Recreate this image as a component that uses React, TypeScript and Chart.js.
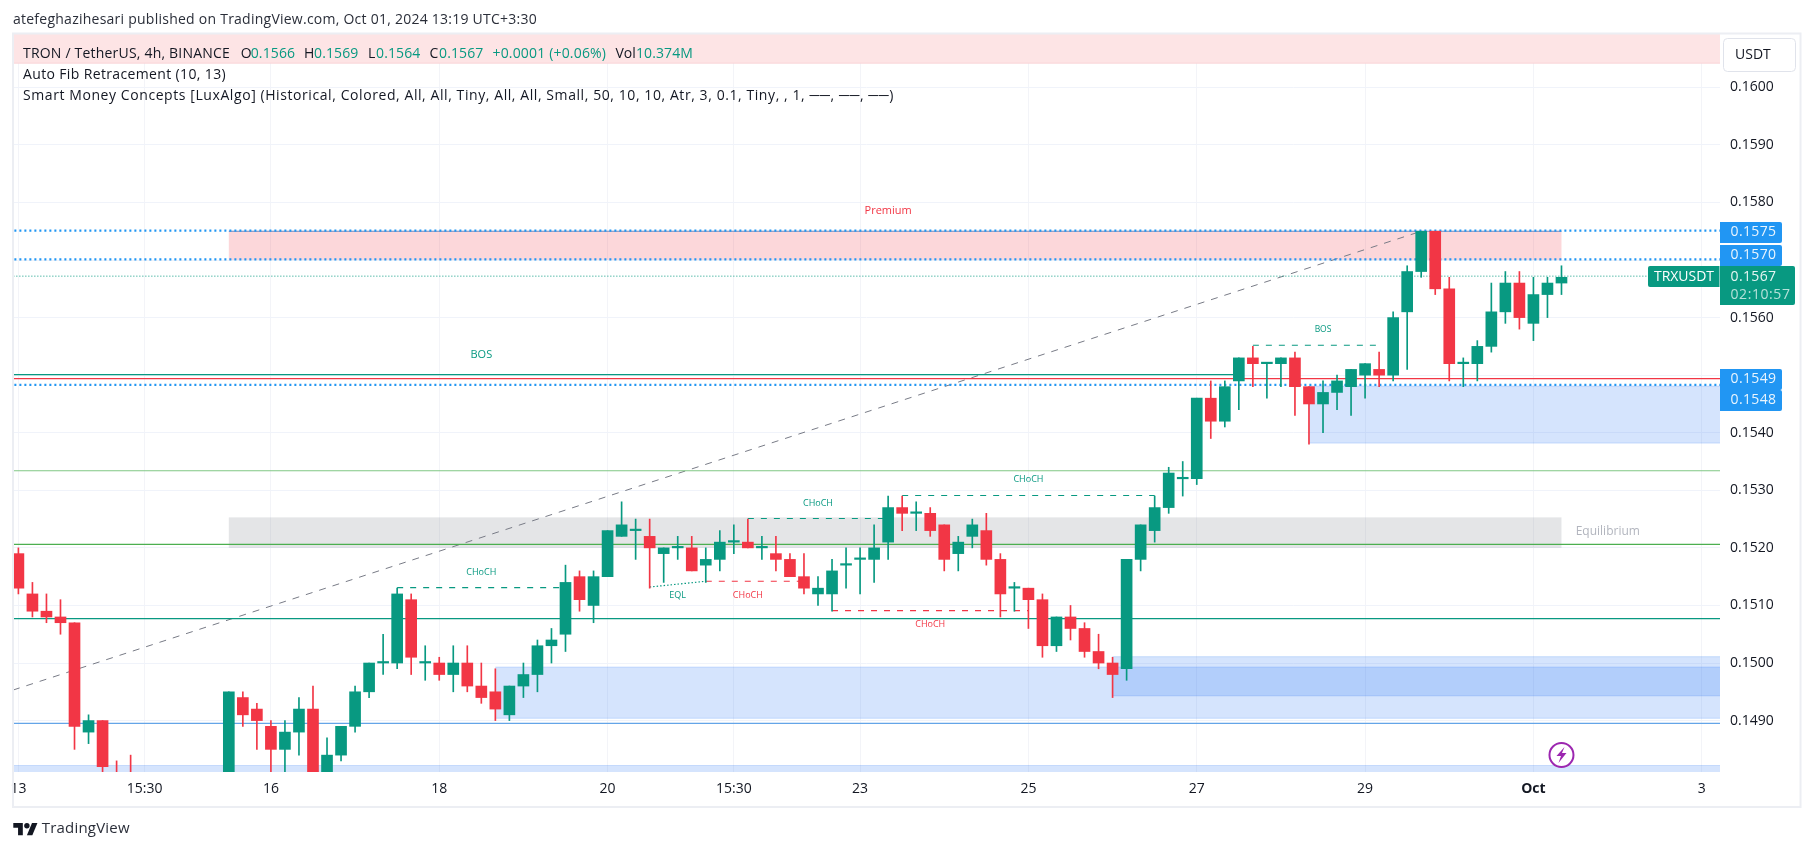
import React, { useEffect, useRef } from "react";
import { Chart, registerables } from "chart.js";

Chart.register(...registerables);

const candleIndex = Array.from({ length: 111 }, (_, i) => i);
// prices in units of 0.0001, null where the candle is entirely below the visible range
const opens: (number | null)[] = [
  1519, 1512, 1509, 1508, 1507, 1488, 1490, 1481, 1480, null, null, null, null, null, null, 1478, 1494, 1492, 1489,
  1485, 1488, 1492, 1479, 1484, 1489, 1495, 1500, 1500, 1511, 1500, 1500, 1498, 1500, 1496, 1495, 1491, 1496, 1498,
  1503, 1505, 1515, 1510, 1515, 1522, 1523, 1522, 1519, 1520, 1520, 1517, 1518, 1521, 1521, 1520, 1519, 1518, 1515,
  1512, 1512, 1517, 1518, 1518, 1521, 1527, 1526, 1526, 1524, 1519, 1522, 1523, 1518, 1513, 1513, 1511, 1503, 1508,
  1506, 1502, 1500, 1499, 1518, 1523, 1527, 1532, 1532, 1546, 1542, 1549, 1553, 1552, 1552, 1553, 1548, 1545, 1547,
  1548, 1550, 1551, 1550, 1561, 1568, 1575, 1565, 1552, 1552, 1555, 1561, 1566, 1559, 1564, 1566,
];
const highs: (number | null)[] = [
  1520, 1514, 1512, 1511, 1507, 1491, 1490, 1483, 1484, null, null, null, null, null, null, 1495, 1495, 1493, 1490,
  1490, 1494, 1496, 1487, 1489, 1496, 1500, 1505, 1513, 1512, 1503, 1501, 1503, 1503, 1500, 1499, 1496, 1500, 1504,
  1506, 1517, 1516, 1516, 1523, 1528, 1525, 1525, 1520, 1522, 1522, 1520, 1523, 1524, 1525, 1522, 1522, 1519, 1519,
  1515, 1518, 1520, 1520, 1524, 1529, 1529, 1528, 1527, 1524, 1522, 1525, 1526, 1519, 1514, 1513, 1512, 1508, 1510,
  1507, 1505, 1501, 1518, 1524, 1529, 1534, 1535, 1546, 1549, 1549, 1553, 1555, 1552, 1553, 1554, 1548, 1549, 1550,
  1551, 1552, 1554, 1561, 1569, 1575, 1575, 1567, 1553, 1556, 1566, 1568, 1568, 1567, 1567, 1569,
];
const lows: (number | null)[] = [
  1512, 1508, 1507, 1505, 1485, 1486, 1480, 1478, 1474, null, null, null, null, null, null, 1476, 1489, 1485, 1480,
  1480, 1484, 1478, 1477, 1483, 1488, 1494, 1498, 1499, 1498, 1497, 1497, 1495, 1495, 1493, 1490, 1490, 1494, 1495,
  1500, 1502, 1509, 1507, 1515, 1522, 1518, 1513, 1514, 1518, 1516, 1514, 1516, 1519, 1520, 1518, 1516, 1515, 1512,
  1510, 1509, 1513, 1512, 1514, 1518, 1523, 1523, 1522, 1516, 1516, 1520, 1517, 1508, 1509, 1506, 1501, 1502, 1504,
  1501, 1499, 1494, 1497, 1516, 1521, 1526, 1529, 1531, 1539, 1541, 1544, 1548, 1546, 1548, 1543, 1538, 1540, 1544,
  1543, 1546, 1548, 1549, 1551, 1567, 1564, 1549, 1548, 1549, 1554, 1559, 1558, 1556, 1560, 1564,
];
const closes: (number | null)[] = [
  1513, 1509, 1508, 1507, 1489, 1490, 1482, 1480, 1476, null, null, null, null, null, null, 1495, 1491, 1490, 1485,
  1488, 1492, 1480, 1484, 1489, 1495, 1500, 1500, 1512, 1501, 1500, 1498, 1500, 1496, 1494, 1492, 1496, 1498, 1503,
  1504, 1514, 1511, 1515, 1523, 1524, 1523, 1520, 1520, 1520, 1516, 1518, 1521, 1521, 1520, 1520, 1518, 1515, 1513,
  1513, 1516, 1517, 1518, 1520, 1527, 1526, 1526, 1523, 1518, 1521, 1524, 1518, 1512, 1513, 1511, 1503, 1508, 1506,
  1502, 1500, 1498, 1518, 1524, 1527, 1533, 1532, 1546, 1542, 1548, 1553, 1552, 1552, 1553, 1548, 1545, 1547, 1549,
  1551, 1552, 1550, 1560, 1568, 1575, 1565, 1552, 1552, 1555, 1561, 1566, 1560, 1564, 1566, 1567,
];

const xTickIndex = [0, 9, 18, 30, 42, 51, 60, 72, 84, 96, 108, 120];
const xTickLabels = ["13", "15:30", "16", "18", "20", "15:30", "23", "25", "27", "29", "Oct", "3"];
const yTickValues = [0.149, 0.15, 0.151, 0.152, 0.153, 0.154, 0.155, 0.156, 0.157, 0.158, 0.159, 0.16];

const fibDottedLevels = [0.15751, 0.15701, 0.15483];
const lastPriceLevel = 0.15672;
const bosLevel = [0.15501];
const redFullLevel = [0.15494];
const lightGreenLevel = [0.15334];
const greenLevel = [0.15206];
const tealLevel = [0.15077];
const blueLevel = [0.14895];

const trendFrom = [-0.385, 0.14953];
const trendTo = [100, 0.1575];

const greenDashFrom = [27, 52, 63, 88];
const greenDashTo = [39, 62, 81, 97];
const greenDashPrice = [0.15131, 0.15251, 0.15291, 0.15552];
const redDashFrom = [49, 58];
const redDashTo = [55.7, 72];
const redDashPrice = [0.15142, 0.15091];
const eqlFrom = [45, 0.15132];
const eqlTo = [49, 0.15142];

const zoneFrom = [34, 78, 92, -1];
const zoneTop = [0.14993, 0.15011, 0.15481, 0.14822];
const zoneBottom = [0.14904, 0.14943, 0.15382, 0.148];
const premiumZone = [15, 110, 0.1575, 0.157];
const equilibriumZone = [15, 110, 0.15253, 0.152];
const upperBandBottom = 0.16042;

const textTeal = ["CHoCH", "CHoCH", "CHoCH", "EQL"];
const textTealAt = [33, 57, 72, 47];
const textTealPrice = [0.15158, 0.15278, 0.15319, 0.15118];
const textRedAt = [52, 65];
const textRedPrice = [0.15118, 0.15067];

const GREEN = "#089981";
const RED = "#F23645";
const BLUE = "#2196F3";
const FONT = "'Open Sans', sans-serif";

const drawOverlay = {
  id: "overlay",
  beforeDatasetsDraw(chart: any) {
    const { ctx, chartArea: a, scales } = chart;
    const X = (v: number) => scales.x.getPixelForValue(v);
    const Y = (v: number) => scales.y.getPixelForValue(v);
    ctx.save();
    ctx.beginPath();
    ctx.rect(a.left, a.top, a.right - a.left, a.bottom - a.top);
    ctx.clip();
    ctx.fillStyle = "#fde4e5";
    ctx.fillRect(a.left, a.top, a.right - a.left, Y(upperBandBottom) - a.top);
    ctx.fillStyle = "#f9d3d6";
    ctx.fillRect(a.left, Y(upperBandBottom) - 0.5, a.right - a.left, 1);
    ctx.fillStyle = "rgba(242,54,69,0.2)";
    ctx.fillRect(X(premiumZone[0]), Y(premiumZone[2]), X(premiumZone[1]) - X(premiumZone[0]), Y(premiumZone[3]) - Y(premiumZone[2]));
    ctx.fillStyle = "rgba(120,123,134,0.2)";
    ctx.fillRect(X(equilibriumZone[0]), Y(equilibriumZone[2]), X(equilibriumZone[1]) - X(equilibriumZone[0]), Y(equilibriumZone[3]) - Y(equilibriumZone[2]));
    zoneFrom.forEach((f, i) => {
      const x0 = X(f);
      const t = Y(zoneTop[i]);
      const b = Y(zoneBottom[i]);
      ctx.fillStyle = "rgba(33,110,243,0.19)";
      ctx.fillRect(x0, t, a.right - x0, b - t);
      ctx.fillRect(x0, t - 0.5, a.right - x0, 1);
      ctx.fillRect(x0, b - 0.5, a.right - x0, 1);
    });
    ctx.restore();
  },
  afterDraw(chart: any) {
    const { ctx, chartArea: a, scales } = chart;
    const X = (v: number) => scales.x.getPixelForValue(v);
    const Y = (v: number) => scales.y.getPixelForValue(v);
    const text = (s: string, x: number, y: number, color: string, font: string, align: CanvasTextAlign = "left", fit = 0) => {
      ctx.fillStyle = color;
      ctx.font = font;
      ctx.textAlign = align;
      ctx.textBaseline = "middle";
      ctx.letterSpacing = "0px";
      if (fit) {
        const w = ctx.measureText(s).width;
        ctx.letterSpacing = `${(fit - w) / s.length}px`;
      }
      ctx.fillText(s, x, y);
      ctx.letterSpacing = "0px";
    };
    ctx.save();
    // frame
    ctx.strokeStyle = "#eceef3";
    ctx.lineWidth = 2;
    ctx.strokeRect(13, 33.5, 1787.5, 773.5);

    text("atefeghazihesari published on TradingView.com, Oct 01, 2024 13:19 UTC+3:30", 13, 20, "#2a2e39", `14px ${FONT}`, "left", 524);

    const f = `14px ${FONT}`;
    const dark = "#131722";
    text("TRON / TetherUS, 4h, BINANCE", 23, 54, dark, f, "left", 207);
    const seg: [string, number, string, number][] = [
      ["O", 240.7, dark, 0], ["0.1566", 250.7, GREEN, 44.5],
      ["H", 304, dark, 0], ["0.1569", 314, GREEN, 44.5],
      ["L", 368, dark, 0], ["0.1564", 376, GREEN, 44.5],
      ["C", 429.4, dark, 0], ["0.1567", 439, GREEN, 44.5],
      ["+0.0001 (+0.06%)", 492.5, GREEN, 113.6],
      ["Vol", 615.4, dark, 0], ["10.374M", 636, GREEN, 57],
    ];
    seg.forEach(([s, x, c, w]) => text(s, x, 54, c, f, "left", w));
    text("Auto Fib Retracement (10, 13)", 23, 75, dark, f, "left", 203);
    text("Smart Money Concepts [LuxAlgo] (Historical, Colored, All, All, Tiny, All, All, Small, 50, 10, 10, Atr, 3, 0.1, Tiny, , 1, ──, ──, ──)", 23, 96, dark, f, "left", 871);

    textTeal.forEach((s, i) => text(s, X(textTealAt[i]), Y(textTealPrice[i]), GREEN, `9px ${FONT}`, "center"));
    textRedAt.forEach((v, i) => text("CHoCH", X(v), Y(textRedPrice[i]), RED, `9px ${FONT}`, "center"));
    text("BOS", X(33), Y(0.15535), GREEN, `11px ${FONT}`, "center");
    text("BOS", X(93), Y(0.1558), GREEN, `8.5px ${FONT}`, "center");
    text("Premium", X(62), Y(0.15785), RED, `11px ${FONT}`, "center");
    text("Equilibrium", X(113.3), Y(0.15228), "#b2b5be", `12px ${FONT}`, "center");

    // signal icon
    const ix = X(110);
    const iy = 755;
    ctx.beginPath();
    ctx.arc(ix, iy, 12, 0, Math.PI * 2);
    ctx.fillStyle = "#fff";
    ctx.fill();
    ctx.strokeStyle = "#9c27b0";
    ctx.lineWidth = 2;
    ctx.stroke();
    ctx.fillStyle = "#9c27b0";
    ctx.beginPath();
    ctx.moveTo(ix + 3, iy - 8);
    ctx.lineTo(ix - 5, iy + 1);
    ctx.lineTo(ix - 0.5, iy + 1);
    ctx.lineTo(ix - 3, iy + 8);
    ctx.lineTo(ix + 5, iy - 2);
    ctx.lineTo(ix + 0.5, iy - 2);
    ctx.closePath();
    ctx.fill();

    const labelText = "rgba(255,255,255,0.9)";
    const label = (s: string, top: number) => {
      ctx.fillStyle = BLUE;
      ctx.beginPath();
      ctx.roundRect(a.right, top, 62, 21, [0, 2, 2, 0]);
      ctx.fill();
      text(s, a.right + 10.5, top + 10.5, labelText, `14px ${FONT}`, "left", 46);
    };
    label("0.1575", 222);
    label("0.1570", 245);
    label("0.1549", 369);
    label("0.1548", 390);
    ctx.fillStyle = GREEN;
    ctx.beginPath();
    ctx.roundRect(a.right, 266, 75, 39, [0, 2, 2, 0]);
    ctx.fill();
    text("0.1567", a.right + 10.5, 277, labelText, `14px ${FONT}`, "left", 46);
    text("02:10:57", a.right + 10.5, 295, "rgba(255,255,255,0.7)", `14px ${FONT}`, "left", 60);
    ctx.fillStyle = GREEN;
    ctx.beginPath();
    ctx.roundRect(a.right - 72, 266, 71.5, 21, [2, 0, 0, 2]);
    ctx.fill();
    text("TRXUSDT", a.right - 36, 277, "#fff", `14px ${FONT}`, "center", 60);

    // USDT button
    ctx.fillStyle = "#fff";
    ctx.strokeStyle = "#e0e3eb";
    ctx.lineWidth = 1;
    ctx.beginPath();
    ctx.roundRect(1723.5, 38.5, 72, 33, 4);
    ctx.fill();
    ctx.stroke();
    text("USDT", 1735, 55, dark, `14px ${FONT}`);

    // TradingView mark
    ctx.save();
    ctx.translate(13.3, 820.3);
    ctx.scale(0.68, 0.68);
    ctx.fillStyle = "#131722";
    ctx.beginPath();
    ctx.moveTo(14, 22);
    ctx.lineTo(7, 22);
    ctx.lineTo(7, 11);
    ctx.lineTo(0, 11);
    ctx.lineTo(0, 4);
    ctx.lineTo(14, 4);
    ctx.closePath();
    ctx.fill();
    ctx.beginPath();
    ctx.arc(20, 8, 4, 0, Math.PI * 2);
    ctx.fill();
    ctx.beginPath();
    ctx.moveTo(28, 22);
    ctx.lineTo(20, 22);
    ctx.lineTo(27.5, 4);
    ctx.lineTo(35.5, 4);
    ctx.closePath();
    ctx.fill();
    ctx.restore();
    text("TradingView", 41.7, 829, "#2a2e39", `15px ${FONT}`, "left", 88);
    ctx.restore();
  },
};

const level = (v: number, color: string, width: number, dash: number[], order: number) => ({
  type: "line",
  data: [{ x: -1, y: v }, { x: 122, y: v }],
  borderColor: color,
  borderWidth: width,
  borderDash: dash,
  pointRadius: 0,
  order,
});
const seg = (x0: number, y0: number, x1: number, y1: number, color: string, width: number, dash: number[], order: number) => ({
  type: "line",
  data: [{ x: x0, y: y0 }, { x: x1, y: y1 }],
  borderColor: color,
  borderWidth: width,
  borderDash: dash,
  pointRadius: 0,
  order,
});

export default function App() {
  const ref = useRef<HTMLCanvasElement>(null);
  useEffect(() => {
    document.body.style.margin = "0";
    document.body.style.background = "#fff";
    const p = (v: number | null) => (v == null ? null : v / 10000);
    const colors = candleIndex.map((i) => ((closes[i] as number) >= (opens[i] as number) ? GREEN : RED));
    const present = candleIndex.filter((i) => opens[i] != null);
    const pick = (f: (i: number) => any) => present.map(f);
    const chart = new Chart(ref.current as HTMLCanvasElement, {
      type: "bar",
      data: {
        datasets: [
          {
            data: pick((i) => ({ x: i, y: [p(opens[i]), p(closes[i])] })),
            backgroundColor: pick((i) => colors[i]),
            barThickness: 11,
            minBarLength: 1.5,
            grouped: false,
            order: 1,
          },
          {
            data: pick((i) => ({ x: i, y: [p(lows[i]), p(highs[i])] })),
            backgroundColor: pick((i) => colors[i]),
            barThickness: 1,
            grouped: false,
            order: 2,
          },
          ...fibDottedLevels.map((v) => level(v, BLUE, 2.2, [2, 3], 3)),
          seg(15, premiumZone[2], 110, premiumZone[2], "#7286b8", 1, [], 4),
          level(lastPriceLevel, GREEN, 1, [1, 2], 3),
          seg(-1, bosLevel[0], 87, bosLevel[0], "#089981", 1.3, [], 5),
          level(redFullLevel[0], RED, 1.3, [], 3),
          level(lightGreenLevel[0], "#81c784", 1.2, [], 5),
          level(greenLevel[0], "#4caf50", 1.2, [], 5),
          level(tealLevel[0], "#089981", 1.2, [], 5),
          level(blueLevel[0], "#64a5e8", 1.2, [], 5),
          seg(trendFrom[0], trendFrom[1], trendTo[0], trendTo[1], "#787b86", 1, [7, 7], 6),
          ...greenDashFrom.map((f, i) => seg(f, greenDashPrice[i], greenDashTo[i], greenDashPrice[i], GREEN, 1.2, [6, 7], 3)),
          ...redDashFrom.map((f, i) => seg(f, redDashPrice[i], redDashTo[i], redDashPrice[i], RED, 1.2, [6, 7], 3)),
          seg(eqlFrom[0], eqlFrom[1], eqlTo[0], eqlTo[1], GREEN, 1.2, [1.5, 2], 3),
        ] as any,
      },
      options: {
        animation: false,
        responsive: false,
        devicePixelRatio: 1,
        layout: { padding: { left: 13, top: 34, right: 14, bottom: 44 } },
        plugins: { legend: { display: false }, tooltip: { enabled: false } },
        scales: {
          x: {
            type: "linear",
            min: -0.385,
            max: 121.3,
            offset: false,
            grid: { color: "#f3f4f8", lineWidth: 1, drawTicks: false, offset: false },
            border: { display: false },
            afterBuildTicks: (axis: any) => {
              axis.ticks = xTickIndex.map((value) => ({ value }));
            },
            afterFit: (axis: any) => {
              axis.height = 35;
            },
            ticks: {
              autoSkip: false,
              maxRotation: 0,
              padding: 9,
              color: "#131722",
              font: (c: any) => ({ family: "'Open Sans', sans-serif", size: 14, weight: c.tick && c.tick.value === 108 ? "bold" : "normal" }),
              callback: (v: any) => xTickLabels[xTickIndex.indexOf(v)],
            },
          },
          y: {
            position: "right",
            min: 0.148107,
            max: 0.160926,
            grid: { color: "#f0f3fa", lineWidth: 1, drawTicks: false },
            border: { display: false },
            afterBuildTicks: (axis: any) => {
              axis.ticks = yTickValues.map((value) => ({ value }));
            },
            afterFit: (axis: any) => {
              axis.width = 80;
            },
            ticks: {
              padding: 10,
              color: "#131722",
              font: { family: "'Open Sans', sans-serif", size: 14 },
              callback: (v: any) => Number(v).toFixed(4),
            },
          },
        },
      } as any,
      plugins: [drawOverlay],
    });
    return () => chart.destroy();
  }, []);
  return <canvas ref={ref} width={1814} height={851} style={{ display: "block" }} />;
}
